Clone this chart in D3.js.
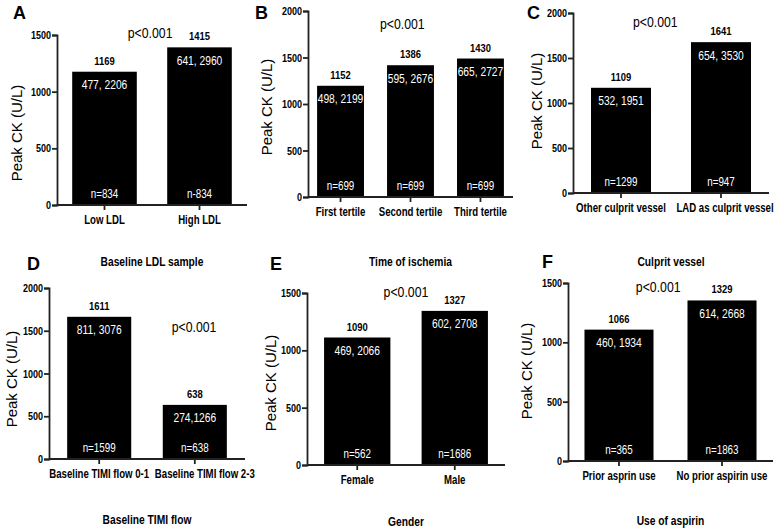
<!DOCTYPE html>
<html lang="en">
<head>
    <meta charset="UTF-8">
    <title>Peak CK by subgroup</title>
    <script src="https://d3js.org/d3.v7.min.js"></script>
    <style>
        body { margin: 0; background: #fff; }
        text { fill: #000; }
        .narrow { font-family: "Liberation Sans Narrow", "Arial Narrow", "Liberation Sans", Arial, sans-serif; }
        .bold { font-weight: bold; }
        .letter { font-family: "Liberation Sans", Arial, sans-serif; font-weight: bold; font-size: 18px; }
        .ytitle { font-family: "Liberation Sans", Arial, sans-serif; font-size: 15px; }
        .axis path, .axis line { stroke: #222; stroke-width: 1.8px; }
    </style>
</head>
<body>
<div id="chart"></div>
<script>
    // ---- data ----
    const catsA = ["Low LDL", "High LDL"];
    const barsA = [1176, 1391];
    const medA = ["1169", "1415"];
    const iqrA = ["477, 2206", "641, 2960"];
    const nA = ["n=834", "n-834"];

    const catsB = ["First tertile", "Second tertile", "Third tertile"];
    const barsB = [1196, 1417, 1489];
    const medB = ["1152", "1386", "1430"];
    const iqrB = ["498, 2199", "595, 2676", "665, 2727"];
    const nB = ["n=699", "n=699", "n=699"];

    const catsC = ["Other culprit vessel", "LAD as culprit vessel"];
    const barsC = [1169, 1676];
    const medC = ["1109", "1641"];
    const iqrC = ["532, 1951", "654, 3530"];
    const nC = ["n=1299", "n=947"];

    const catsD = ["Baseline TIMI flow 0-1", "Baseline TIMI flow 2-3"];
    const barsD = [1663, 633];
    const medD = ["1611", "638"];
    const iqrD = ["811, 3076", "274,1266"];
    const nD = ["n=1599", "n=638"];

    const catsE = ["Female", "Male"];
    const barsE = [1112, 1344];
    const medE = ["1090", "1327"];
    const iqrE = ["469, 2066", "602, 2708"];
    const nE = ["n=562", "n=1686"];

    const catsF = ["Prior asprin use", "No prior aspirin use"];
    const barsF = [1107, 1353];
    const medF = ["1066", "1329"];
    const iqrF = ["460, 1934", "614, 2668"];
    const nF = ["n=365", "n=1863"];

    const ticks1500 = [0, 500, 1000, 1500];
    const ticks2000 = [0, 500, 1000, 1500, 2000];
    const titles = ["Baseline LDL sample", "Time of ischemia", "Culprit vessel",
                    "Baseline TIMI flow", "Gender", "Use of aspirin"];
    const pText = "p<0.001";
    const yTitle = "Peak CK (U/L)";

    // ---- layout (pixel frames of each panel) ----
    const panels = [
        { key: "A", cats: catsA, bars: barsA, med: medA, iqr: iqrA, n: nA, ticks: ticks1500,
          x: [57, 247], y: [205, 35], pi: 0.32, po: 0.16, letter: [13, 19], titleY: 262,
          p: [0.49, 1518], yt: [17, 133], lastDx: 0 },
        { key: "B", cats: catsB, bars: barsB, med: medB, iqr: iqrB, n: nB, ticks: ticks2000,
          x: [308, 513], y: [197, 11], pi: 0.33, po: 0.13, letter: [255, 19], titleY: 262,
          p: [0.46, 1867], yt: [267, 107], lastDx: 0 },
        { key: "C", cats: catsC, bars: barsC, med: medC, iqr: iqrC, n: nC, ticks: ticks2000,
          x: [573, 769], y: [193, 13], pi: 0.4, po: 0.18, letter: [527, 19], titleY: 262,
          p: [0.42, 1900], yt: [537, 101], lastDx: 4 },
        { key: "D", cats: catsD, bars: barsD, med: medD, iqr: iqrD, n: nD, ticks: ticks2000,
          x: [49, 245], y: [459, 288], pi: 0.33, po: 0.19, letter: [27, 270], titleY: 520,
          p: [0.74, 1551], yt: [12, 379], lastDx: 10 },
        { key: "E", cats: catsE, bars: barsE, med: medE, iqr: iqrE, n: nE, ticks: ticks1500,
          x: [307, 505], y: [465, 293], pi: 0.32, po: 0.175, letter: [270, 270], titleY: 522,
          p: [0.5, 1515], yt: [271, 383], lastDx: 0 },
        { key: "F", cats: catsF, bars: barsF, med: medF, iqr: iqrF, n: nF, ticks: ticks1500,
          x: [568, 773], y: [461, 283], pi: 0.33, po: 0.16, letter: [542, 268], titleY: 521,
          p: [0.44, 1466], yt: [527, 371], lastDx: 0 }
    ];

    const svg = d3.select("#chart").append("svg")
        .attr("width", 779)
        .attr("height", 532);

    panels.forEach((cfg, i) => {
        const g = svg.append("g");
        const max = d3.max(cfg.ticks);

        const x = d3.scaleBand()
            .domain(cfg.cats)
            .range(cfg.x)
            .paddingInner(cfg.pi)
            .paddingOuter(cfg.po);

        const y = d3.scaleLinear()
            .domain([0, max])
            .range(cfg.y);

        // bars
        g.selectAll("rect")
            .data(cfg.cats)
            .join("rect")
            .attr("x", d => x(d))
            .attr("width", x.bandwidth())
            .attr("y", (d, j) => y(cfg.bars[j]))
            .attr("height", (d, j) => y(0) - y(cfg.bars[j]))
            .attr("fill", "#000");

        // y axis
        const ya = g.append("g")
            .attr("class", "axis")
            .attr("transform", `translate(${cfg.x[0]},0)`)
            .call(d3.axisLeft(y).tickValues(cfg.ticks).tickSize(5).tickPadding(1).tickFormat(d3.format("d")));
        ya.selectAll("text")
            .attr("class", "narrow bold")
            .style("font-size", "11px")
            .attr("fill", "#000");

        // x axis
        const xa = g.append("g")
            .attr("class", "axis")
            .attr("transform", `translate(0,${cfg.y[0]})`)
            .call(d3.axisBottom(x).tickSize(5).tickPadding(5).tickSizeOuter(0));
        xa.select(".domain").attr("d", `M${cfg.x[0]},0H${cfg.x[1]}`);
        xa.selectAll("text")
            .attr("class", "narrow bold cat")
            .attr("dx", (d, j) => j === cfg.cats.length - 1 ? cfg.lastDx / 0.77 : 0)
            .style("font-size", "12.5px")
            .attr("fill", "#000");

        // median labels above bars
        g.selectAll(".med")
            .data(cfg.cats)
            .join("text")
            .attr("class", "narrow bold")
            .attr("x", d => x(d) + x.bandwidth() / 2)
            .attr("y", (d, j) => y(cfg.bars[j]) - 11)
            .attr("dy", "0.35em")
            .attr("text-anchor", "middle")
            .style("font-size", "11.5px")
            .text((d, j) => cfg.med[j]);

        // IQR labels inside bars
        g.selectAll(".iqr")
            .data(cfg.cats)
            .join("text")
            .attr("class", "narrow")
            .attr("x", d => x(d) + x.bandwidth() / 2)
            .attr("y", (d, j) => y(cfg.bars[j]) + 13)
            .attr("dy", "0.35em")
            .attr("text-anchor", "middle")
            .style("font-size", "12.5px")
            .style("fill", "#fff")
            .text((d, j) => cfg.iqr[j]);

        // n labels
        g.selectAll(".nlab")
            .data(cfg.cats)
            .join("text")
            .attr("class", "narrow")
            .attr("x", d => x(d) + x.bandwidth() / 2)
            .attr("y", y(0) - 11)
            .attr("dy", "0.35em")
            .attr("text-anchor", "middle")
            .style("font-size", "12px")
            .style("fill", "#fff")
            .text((d, j) => cfg.n[j]);

        // p value
        g.append("text")
            .attr("class", "narrow")
            .attr("x", cfg.x[0] + cfg.p[0] * (cfg.x[1] - cfg.x[0]))
            .attr("y", y(cfg.p[1]))
            .attr("dy", "0.35em")
            .attr("text-anchor", "middle")
            .style("font-size", "15px")
            .text(pText);

        // y title
        g.append("text")
            .attr("class", "ytitle")
            .attr("transform", `translate(${cfg.yt[0]},${cfg.yt[1]}) rotate(-90)`)
            .attr("dy", "0.35em")
            .attr("text-anchor", "middle")
            .text(yTitle);

        // panel letter
        g.append("text")
            .attr("class", "letter")
            .attr("x", cfg.letter[0])
            .attr("y", cfg.letter[1])
            .text(cfg.key);

        // x title
        g.append("text")
            .attr("class", "narrow bold")
            .attr("x", (cfg.x[0] + cfg.x[1]) / 2)
            .attr("y", cfg.titleY)
            .attr("dy", "0.35em")
            .attr("text-anchor", "middle")
            .style("font-size", "12.5px")
            .text(titles[i]);
    });

    // no narrow face installed: squeeze the regular face horizontally about its x
    svg.selectAll("text.narrow").each(function () {
        const k = this.classList.contains("cat") ? 0.77 : 0.82;
        const x0 = +this.getAttribute("x") || 0;
        d3.select(this).attr("transform", `translate(${x0 * (1 - k)},0) scale(${k},1)`);
    });
</script>
</body>
</html>
